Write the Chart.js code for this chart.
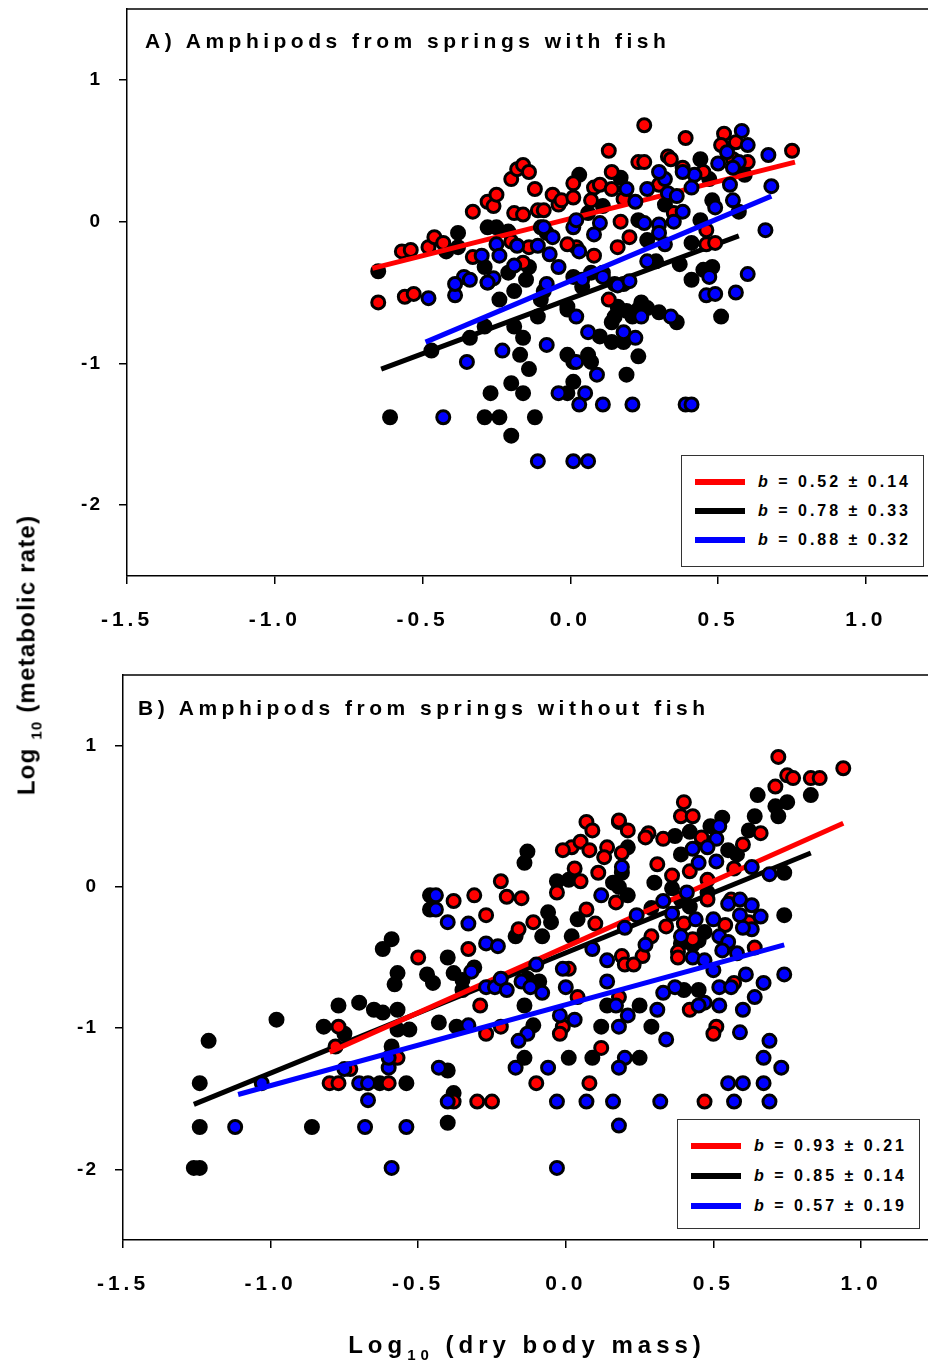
<!DOCTYPE html>
<html>
<head>
<meta charset="utf-8">
<script src="https://cdn.jsdelivr.net/npm/chart.js@4.4.0/dist/chart.umd.min.js"></script>
<style>
  body { margin: 0; background: #fff; }
  #page { position: relative; width: 928px; height: 1366px; overflow: hidden;
          font-family: 'Liberation Sans', Arial, sans-serif; font-weight: bold; color: #000; }
  canvas { position: absolute; left: 0; }
  .title { position: absolute; font-size: 21px; line-height: 21px; letter-spacing: 4.5px; white-space: nowrap; }
  .legend { position: absolute; border: 1px solid #333; background: #fff; box-sizing: border-box; }
  .row { position: absolute; left: 13px; height: 20px; display: flex; align-items: center; }
  .swatch { width: 50px; height: 6px; margin-right: 13px; }
  .row span { font-size: 16px; letter-spacing: 3px; white-space: nowrap; }
  #ytitle { position: absolute; left: 28px; top: 655px; transform: translate(-50%, -50%) rotate(-90deg);
            font-size: 24px; letter-spacing: 1.2px; white-space: nowrap; line-height: 24px; }
  #ytitle sub, #xtitle sub { font-size: 15px; vertical-align: baseline; position: relative; top: 7px; }
  #xtitle { position: absolute; left: 527px; top: 1333px; transform: translateX(-50%);
            font-size: 24px; line-height: 24px; letter-spacing: 5px; white-space: nowrap; }
</style>
</head>
<body>
<div id="page">
  <canvas id="chartA" width="928" height="660" style="top:0"></canvas>
  <canvas id="chartB" width="928" height="680" style="top:660px"></canvas>
  <div class="title" style="left:145px;top:30px">A) Amphipods from springs with fish</div>
  <div class="title" style="left:138px;top:697px">B) Amphipods from springs without fish</div>
  <div class="legend" id="legendA" style="left:681px;top:455px;width:243px;height:112px"></div>
  <div class="legend" id="legendB" style="left:677px;top:1119px;width:243px;height:110px"></div>
  <div id="ytitle">Log <sub>10</sub> (metabolic rate)</div>
  <div id="xtitle">Log<sub>10</sub> (dry body mass)</div>
</div>
<script>
const xTicks = [-1.5, -1.0, -0.5, 0.0, 0.5, 1.0];
const yTicks = [-2, -1, 0, 1];
const groupColors = ['#ff0000', '#000000', '#0000ff'];
const legendA = ['0.52 ± 0.14', '0.78 ± 0.33', '0.88 ± 0.32'];
const legendB = ['0.93 ± 0.21', '0.85 ± 0.14', '0.57 ± 0.19'];

// panel A: springs with fish  [log mass, log rate]
const redA = [[-0.65,-0.57],[-0.56,-0.53],[-0.53,-0.51],[-0.57,-0.21],[-0.54,-0.20],[-0.48,-0.18],[-0.46,-0.11],[-0.43,-0.15],[-0.33,0.07],[-0.33,-0.25],[-0.28,0.14],[-0.26,0.11],[-0.25,0.19],[-0.20,0.30],[-0.19,0.06],[-0.18,0.37],[-0.16,0.05],[-0.16,0.40],[-0.14,0.35],[-0.12,0.23],[-0.11,0.08],[-0.20,-0.14],[-0.14,-0.18],[-0.16,-0.29],[-0.06,0.19],[-0.04,0.12],[-0.03,0.15],[-0.09,0.08],[0.01,0.27],[0.01,0.17],[0.08,0.24],[0.10,0.26],[0.14,0.23],[0.07,0.15],[0.18,0.16],[0.13,0.50],[0.14,0.35],[0.25,0.68],[0.23,0.42],[0.25,0.42],[0.33,0.46],[0.34,0.44],[0.39,0.59],[0.30,0.26],[0.38,0.38],[0.45,0.35],[0.35,0.06],[0.17,0.00],[0.16,-0.18],[0.20,-0.11],[0.08,-0.24],[0.02,-0.18],[-0.01,-0.16],[0.13,-0.55],[0.46,-0.06],[0.46,-0.16],[0.49,-0.15],[0.52,0.62],[0.51,0.54],[0.56,0.56],[0.55,0.44],[0.60,0.42],[0.75,0.50]];
const blackA = [[-0.65,-0.35],[-0.61,-1.38],[-0.47,-0.91],[-0.34,-0.82],[-0.29,-0.74],[-0.19,-0.74],[-0.16,-0.82],[-0.19,-0.49],[-0.11,-0.67],[-0.10,-0.55],[-0.17,-0.94],[-0.14,-1.04],[-0.20,-1.14],[-0.16,-1.21],[-0.27,-1.21],[-0.29,-1.38],[-0.24,-1.38],[-0.12,-1.38],[-0.20,-1.51],[-0.01,-0.94],[0.01,-0.99],[0.06,-0.94],[0.07,-0.99],[0.01,-1.13],[-0.01,-1.21],[-0.01,-0.62],[0.14,-0.71],[0.15,-0.67],[0.19,-0.63],[0.23,-0.62],[0.26,-0.61],[0.30,-0.64],[0.36,-0.71],[0.10,-0.81],[0.14,-0.85],[0.18,-0.85],[0.23,-0.95],[0.19,-1.08],[0.51,-0.67],[0.21,-0.67],[-0.38,-0.08],[-0.38,-0.18],[-0.42,-0.21],[-0.28,-0.04],[-0.25,-0.04],[-0.21,-0.07],[-0.29,-0.32],[-0.28,-0.43],[-0.21,-0.36],[-0.15,-0.41],[-0.14,-0.32],[-0.24,-0.55],[-0.09,-0.49],[-0.08,-0.08],[0.03,0.33],[0.44,0.44],[0.47,0.30],[0.17,0.31],[0.11,0.11],[0.23,0.01],[0.26,-0.13],[0.06,0.06],[0.44,0.01],[0.48,0.15],[0.57,0.07],[0.41,-0.15],[0.37,-0.30],[0.41,-0.41],[0.45,-0.34],[0.48,-0.32],[0.07,-0.36],[0.11,-0.36],[0.01,-0.39],[0.04,-0.46],[0.15,-0.44],[0.18,-0.44],[0.24,-0.57],[0.16,-0.60],[-0.01,-0.60],[0.53,0.51],[0.59,0.33],[0.32,0.12],[0.29,-0.28]];
const blueA = [[-0.48,-0.54],[-0.39,-0.52],[-0.23,-0.91],[-0.35,-0.99],[-0.08,-0.87],[0.02,-0.67],[0.06,-0.78],[0.18,-0.78],[0.22,-0.82],[0.24,-0.67],[0.34,-0.67],[0.02,-0.99],[0.09,-1.08],[-0.04,-1.21],[0.05,-1.21],[0.03,-1.29],[0.11,-1.29],[0.21,-1.29],[0.39,-1.29],[0.41,-1.29],[-0.43,-1.38],[-0.11,-1.69],[0.01,-1.69],[0.06,-1.69],[0.46,-0.52],[0.49,-0.51],[0.56,-0.50],[-0.25,-0.16],[-0.30,-0.24],[-0.24,-0.24],[-0.18,-0.17],[-0.11,-0.17],[-0.19,-0.31],[-0.10,-0.04],[-0.06,-0.11],[-0.07,-0.23],[-0.04,-0.32],[-0.36,-0.39],[-0.34,-0.41],[-0.39,-0.44],[-0.26,-0.40],[-0.28,-0.43],[-0.08,-0.44],[0.58,0.64],[0.60,0.54],[0.67,0.47],[0.53,0.49],[0.57,0.42],[0.50,0.41],[0.55,0.38],[0.54,0.26],[0.42,0.33],[0.38,0.35],[0.32,0.30],[0.30,0.35],[0.41,0.24],[0.33,0.20],[0.36,0.18],[0.26,0.23],[0.19,0.23],[0.22,0.14],[0.55,0.15],[0.49,0.10],[0.68,0.25],[0.25,-0.01],[0.30,-0.02],[0.35,0.00],[0.38,0.07],[0.30,-0.08],[0.32,-0.16],[0.10,-0.01],[0.08,-0.09],[0.01,-0.04],[0.02,0.01],[-0.09,-0.04],[0.03,-0.21],[0.26,-0.28],[0.66,-0.06],[0.60,-0.37],[0.47,-0.39],[0.16,-0.45],[0.20,-0.42],[0.11,-0.39],[0.04,-0.41]];
const redFitAx = [-0.67, 0.76], redFitAy = [-0.33, 0.42];
const blackFitAx = [-0.64, 0.57], blackFitAy = [-1.04, -0.10];
const blueFitAx = [-0.49, 0.68], blueFitAy = [-0.85, 0.18];

// panel B: springs without fish
const redB = [[-0.77,-0.99],[-0.50,-0.50],[-0.78,-1.13],[-0.80,-1.39],[-0.77,-1.39],[-0.60,-1.39],[-0.57,-1.21],[-0.73,-1.29],[0.07,0.46],[0.09,0.40],[0.18,0.46],[0.02,0.28],[-0.01,0.26],[0.05,0.32],[0.08,0.26],[0.14,0.28],[0.13,0.21],[0.03,0.13],[0.11,0.10],[0.05,0.04],[-0.22,0.04],[-0.20,-0.07],[-0.15,-0.08],[-0.31,-0.06],[-0.38,-0.10],[-0.27,-0.20],[-0.03,-0.04],[0.07,-0.16],[0.10,-0.26],[-0.11,-0.25],[-0.16,-0.30],[-0.33,-0.44],[0.17,-0.11],[0.72,0.92],[0.94,0.84],[0.75,0.79],[0.77,0.77],[0.83,0.77],[0.86,0.77],[0.71,0.71],[0.40,0.60],[0.39,0.50],[0.43,0.50],[0.18,0.47],[0.21,0.40],[0.28,0.38],[0.27,0.35],[0.33,0.34],[0.66,0.38],[0.19,0.24],[0.46,0.35],[0.60,0.30],[0.31,0.16],[0.42,0.11],[0.36,0.08],[0.57,0.13],[0.34,-0.28],[0.40,-0.26],[0.48,-0.09],[0.56,-0.09],[0.48,0.05],[0.54,-0.27],[0.43,-0.37],[0.38,-0.46],[0.19,-0.49],[0.26,-0.49],[0.29,-0.35],[0.64,-0.43],[0.62,-0.25],[-0.29,-0.84],[-0.27,-1.04],[-0.22,-0.99],[-0.01,-0.99],[-0.02,-1.04],[0.01,-0.58],[0.04,-0.78],[0.12,-1.14],[-0.10,-1.39],[0.08,-1.39],[-0.30,-1.52],[-0.25,-1.52],[-0.38,-1.52],[0.20,-0.55],[0.23,-0.55],[0.38,-0.50],[0.42,-0.87],[0.51,-0.99],[0.50,-1.04],[0.57,-0.68],[0.47,-1.52],[0.18,-0.78]];
const blackB = [[-1.26,-1.99],[-1.24,-1.99],[-1.24,-1.39],[-1.24,-1.70],[-1.21,-1.09],[-0.98,-0.94],[-0.86,-1.70],[-0.82,-0.99],[-0.77,-0.84],[-0.75,-1.04],[-0.70,-0.82],[-0.65,-0.87],[-0.62,-0.89],[-0.57,-0.87],[-0.62,-0.44],[-0.59,-0.37],[-0.57,-0.61],[-0.58,-0.69],[-0.47,-0.62],[-0.46,-0.06],[-0.46,-0.16],[-0.57,-1.01],[-0.53,-1.01],[-0.59,-1.13],[-0.63,-1.39],[-0.54,-1.39],[-0.13,0.25],[-0.14,0.17],[-0.03,0.04],[0.01,0.05],[0.16,0.03],[-0.06,-0.18],[-0.05,-0.25],[0.04,-0.23],[-0.08,-0.35],[0.02,-0.35],[-0.17,-0.35],[-0.40,-0.50],[0.65,0.65],[0.83,0.65],[0.75,0.60],[0.71,0.57],[0.72,0.50],[0.64,0.50],[0.62,0.40],[0.53,0.49],[0.49,0.43],[0.42,0.39],[0.37,0.36],[0.39,0.23],[0.55,0.26],[0.58,0.23],[0.21,0.28],[0.19,0.10],[0.18,0.00],[0.21,-0.06],[0.30,0.03],[0.36,-0.01],[0.39,-0.09],[0.74,0.10],[0.74,-0.20],[0.48,-0.04],[0.42,-0.14],[0.29,-0.15],[0.45,-0.38],[0.39,-0.40],[0.47,-0.32],[-0.45,-0.68],[-0.38,-0.61],[-0.35,-0.66],[-0.31,-0.57],[-0.35,-0.73],[-0.43,-0.96],[-0.37,-0.99],[-0.14,-0.84],[-0.11,-0.98],[-0.14,-1.21],[0.01,-1.21],[0.09,-1.21],[0.12,-0.99],[0.14,-0.84],[-0.40,-1.67],[-0.38,-1.46],[-0.40,-1.30],[-0.13,-0.65],[-0.09,-0.67],[0.43,-0.41],[0.40,-0.73],[0.45,-0.73],[0.25,-0.84],[0.29,-0.99],[0.25,-1.21]];
const blueB = [[-1.03,-1.39],[-0.75,-1.29],[-0.70,-1.39],[-0.67,-1.39],[-0.67,-1.51],[-0.60,-1.28],[-0.60,-1.21],[-1.12,-1.70],[-0.68,-1.70],[-0.54,-1.70],[-0.59,-1.99],[-0.44,-0.06],[-0.44,-0.16],[-0.40,-0.25],[-0.33,-0.26],[-0.27,-0.40],[-0.23,-0.42],[0.12,-0.06],[0.09,-0.44],[0.52,0.43],[0.51,0.34],[0.48,0.28],[0.43,0.27],[0.45,0.17],[0.51,0.18],[0.63,0.14],[0.69,0.09],[0.19,0.14],[0.41,-0.04],[0.33,-0.10],[0.36,-0.19],[0.24,-0.20],[0.20,-0.29],[0.55,-0.12],[0.59,-0.09],[0.59,-0.20],[0.63,-0.13],[0.66,-0.21],[0.44,-0.23],[0.50,-0.23],[0.63,-0.30],[0.60,-0.29],[0.39,-0.35],[0.52,-0.35],[0.55,-0.39],[0.27,-0.41],[0.53,-0.45],[0.58,-0.47],[-0.32,-0.60],[-0.27,-0.71],[-0.24,-0.71],[-0.22,-0.65],[-0.20,-0.73],[-0.15,-0.67],[-0.12,-0.71],[-0.10,-0.55],[-0.08,-0.75],[-0.01,-0.58],[0.00,-0.71],[-0.02,-0.91],[0.03,-0.94],[-0.33,-0.98],[-0.13,-1.04],[-0.16,-1.09],[-0.43,-1.28],[-0.17,-1.28],[-0.06,-1.28],[-0.40,-1.52],[-0.03,-1.52],[0.07,-1.52],[0.14,-0.52],[0.14,-0.67],[0.17,-0.84],[0.18,-0.99],[0.43,-0.50],[0.47,-0.52],[0.50,-0.59],[0.61,-0.62],[0.67,-0.68],[0.74,-0.62],[0.52,-0.71],[0.56,-0.71],[0.37,-0.71],[0.33,-0.75],[0.64,-0.78],[0.60,-0.87],[0.47,-0.82],[0.52,-0.84],[0.45,-0.84],[0.31,-0.87],[0.21,-0.91],[0.34,-1.08],[0.59,-1.03],[0.69,-1.09],[0.67,-1.21],[0.73,-1.28],[0.20,-1.21],[0.18,-1.28],[0.55,-1.39],[0.60,-1.39],[0.67,-1.39],[0.16,-1.52],[0.32,-1.52],[0.57,-1.52],[0.69,-1.52],[0.18,-1.69],[-0.03,-1.99]];
const redFitBx = [-0.80, 0.94], redFitBy = [-1.17, 0.45];
const blackFitBx = [-1.26, 0.83], blackFitBy = [-1.54, 0.24];
const blueFitBx = [-1.11, 0.74], blueFitBy = [-1.47, -0.41];

const FONT = "'Liberation Sans', Arial, sans-serif";

function pts(arr) { return arr.map(p => ({ x: p[0], y: p[1] })); }
function fit(xs, ys) { return xs.map((x, i) => ({ x: x, y: ys[i] })); }

function dots(arr, color) {
    return { data: pts(arr), backgroundColor: color, borderColor: '#000', borderWidth: 3, pointRadius: 6.5 };
}
function fitLine(xs, ys, color) {
    return { data: fit(xs, ys), showLine: true, borderColor: color, borderWidth: 5, pointRadius: 0, borderCapStyle: 'butt' };
}

// no automatic label padding: the plot box is placed by hand
function noPad(s) {
    s.paddingTop = 0; s.paddingBottom = 0; s.paddingLeft = 0; s.paddingRight = 0;
}

// y labels get a tighter letter spacing than the x labels
function tightLabels(s) {
    if (s._tight) return;
    s._tight = true;
    const orig = s.drawLabels;
    s.drawLabels = function (area) {
        const c = this.ctx;
        const old = c.letterSpacing;
        c.letterSpacing = '2px';
        orig.call(this, area);
        c.letterSpacing = old;
    };
}

// top frame line + letter spacing for tick labels
const framePlugin = {
    id: 'frame',
    beforeDraw(chart) {
        chart.ctx.letterSpacing = '4px';
    },
    afterDraw(chart) {
        const { ctx, chartArea } = chart;
        ctx.save();
        ctx.strokeStyle = '#000';
        ctx.lineWidth = 1.5;
        ctx.beginPath();
        ctx.moveTo(chartArea.left, chartArea.top);
        ctx.lineTo(chartArea.right, chartArea.top);
        ctx.stroke();
        ctx.restore();
    }
};

function makeChart(id, xMax, padTop, yWidth, xHeight, datasets) {
    return new Chart(document.getElementById(id), {
        type: 'scatter',
        data: { datasets: datasets },
        options: {
            responsive: false,
            animation: false,
            devicePixelRatio: 1,
            events: [],
            layout: { autoPadding: false, padding: { top: padTop, left: 0, right: 0, bottom: 0 } },
            plugins: { legend: { display: false }, tooltip: { enabled: false } },
            scales: {
                x: {
                    type: 'linear', min: -1.5, max: xMax,
                    afterBuildTicks: s => { s.ticks = xTicks.map(v => ({ value: v })); },
                    afterFit: s => { s.height = xHeight; noPad(s); },
                    ticks: { callback: v => v.toFixed(1), color: '#000', padding: 24, maxRotation: 0, autoSkip: false,
                             font: { family: FONT, size: 21, weight: 'bold' } },
                    grid: { drawOnChartArea: false, drawTicks: true, tickLength: 8, color: '#000', lineWidth: 1.5 },
                    border: { display: true, color: '#000', width: 1.5 }
                },
                y: {
                    type: 'linear', min: -2.5, max: 1.5,
                    afterBuildTicks: s => { s.ticks = yTicks.map(v => ({ value: v })); },
                    afterFit: s => { s.width = yWidth; noPad(s); },
                    afterUpdate: tightLabels,
                    ticks: { callback: v => String(v), color: '#000', padding: 17, autoSkip: false,
                             font: { family: FONT, size: 19, weight: 'bold' } },
                    grid: { drawOnChartArea: false, drawTicks: true, tickLength: 8, color: '#000', lineWidth: 1.5 },
                    border: { display: true, color: '#000', width: 1.5 }
                }
            }
        },
        plugins: [framePlugin]
    });
}

// first dataset is drawn on top
makeChart('chartA', 1.21, 9, 127, 84, [
    fitLine(blueFitAx, blueFitAy, groupColors[2]),
    dots(blueA, groupColors[2]),
    fitLine(redFitAx, redFitAy, groupColors[0]),
    dots(redA, groupColors[0]),
    fitLine(blackFitAx, blackFitAy, groupColors[1]),
    dots(blackA, groupColors[1])
]);

makeChart('chartB', 1.227, 15, 123, 100, [
    fitLine(blueFitBx, blueFitBy, groupColors[2]),
    dots(blueB, groupColors[2]),
    fitLine(redFitBx, redFitBy, groupColors[0]),
    dots(redB, groupColors[0]),
    fitLine(blackFitBx, blackFitBy, groupColors[1]),
    dots(blackB, groupColors[1])
]);

function buildLegend(id, labels, rowTops) {
    const box = document.getElementById(id);
    labels.forEach((txt, i) => {
        const row = document.createElement('div');
        row.className = 'row';
        row.style.top = rowTops[i] + 'px';
        const sw = document.createElement('div');
        sw.className = 'swatch';
        sw.style.background = groupColors[i];
        const t = document.createElement('span');
        t.innerHTML = '<i>b</i> = ' + txt;
        row.appendChild(sw);
        row.appendChild(t);
        box.appendChild(row);
    });
}
buildLegend('legendA', legendA, [16, 45, 74]);
buildLegend('legendB', legendB, [16, 46, 76]);
</script>
</body>
</html>
